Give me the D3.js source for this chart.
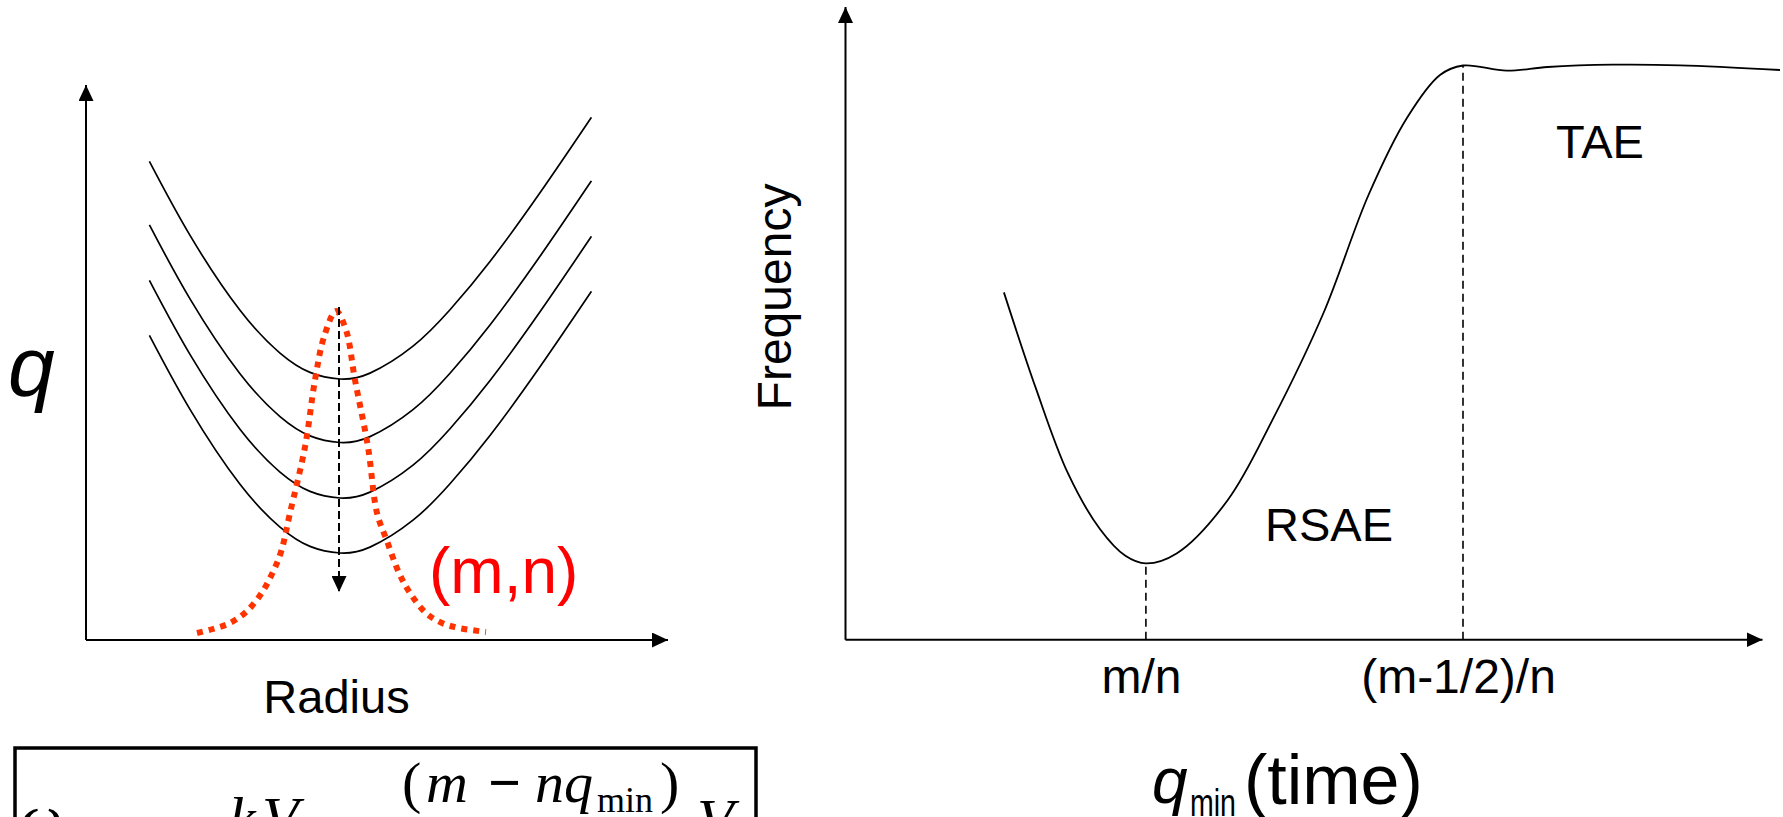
<!DOCTYPE html>
<html><head><meta charset="utf-8">
<script src="https://cdn.jsdelivr.net/npm/d3@7"></script>
<style>html,body{margin:0;padding:0;background:#fff;overflow:hidden}</style>
</head><body>
<svg id="chart" width="1783" height="817"></svg>
<script>
// ================= DATA =================
// Left panel: safety-factor profile q(r) of the top curve (arbitrary radius units)
const profileRadius = [6.34, 10.4, 15.4, 19.4, 22.4, 25.4, 28.4, 32.7, 36.4, 40.4, 45.4, 50.54];
const profileQ      = [4.786, 4.046, 3.297, 2.869, 2.676, 2.61, 2.669, 2.938, 3.302, 3.785, 4.472, 5.226];
// downward shift of each successive q profile (q_min decreasing in time)
const profileShift  = [0, 0.635, 1.19, 1.74];
// (m,n) mode structure (dotted red)
const modeRadius = [11.1, 12.7, 14.4, 16.0, 17.5, 18.6, 19.5, 20.4, 21.9, 22.9, 23.8, 25.0,
                    26.0, 26.9, 28.2, 29.1, 30.1, 31.3, 32.4, 34.0, 35.6, 37.3, 40.0];
const modeAmp    = [0.07, 0.11, 0.17, 0.28, 0.46, 0.66, 0.88, 1.27, 1.93, 2.60, 3.03, 3.29,
                    3.10, 2.60, 1.93, 1.27, 0.99, 0.67, 0.47, 0.27, 0.17, 0.12, 0.08];
const arrowRadius = 25.3;
const arrowQ = [3.33, 0.48];

// Right panel: frequency vs q_min (time)
const qminTime  = [15.84, 19.04, 22.24, 25.44, 27.99, 30.04, 33.11, 38.23, 42.71, 47.82,
                   52.30, 56.14, 59.45, 61.75, 66.12, 70.21, 76.75, 83.45, 93.45];
const frequency = [3.473, 2.513, 1.665, 1.107, 0.839, 0.763, 0.862, 1.397, 2.201, 3.272,
                   4.447, 5.217, 5.647, 5.742, 5.690, 5.727, 5.750, 5.744, 5.697];
const tickValues = [30.04, 61.75];
const tickLabels = ["m/n", "(m-1/2)/n"];
const tickFreq   = [0.763, 5.742];

// ================= DRAW =================
const svg = d3.select("#chart");
const SANS = "'Liberation Sans', Arial, Helvetica, sans-serif";
const SERIF = "'Liberation Serif', 'Times New Roman', serif";

const defs = svg.append("defs");
defs.append("marker").attr("id", "arr")
  .attr("viewBox", "0 0 16 15").attr("refX", 16).attr("refY", 7.5)
  .attr("markerWidth", 16).attr("markerHeight", 15)
  .attr("markerUnits", "userSpaceOnUse").attr("orient", "auto")
  .append("path").attr("d", "M0,0 L16,7.5 L0,15 Z").attr("fill", "#000");

// ---------- left panel ----------
const xL = d3.scaleLinear().domain([0, 58.2]).range([86, 668]);
const yL = d3.scaleLinear().domain([0, 5.55]).range([640, 85]);

const gL = svg.append("g");
gL.append("line").attr("x1", xL(0)).attr("y1", yL(0)).attr("x2", xL(0)).attr("y2", yL(5.55))
  .attr("stroke", "#000").attr("stroke-width", 2).attr("marker-end", "url(#arr)");
gL.append("line").attr("x1", xL(0)).attr("y1", yL(0)).attr("x2", xL(58.2)).attr("y2", yL(0))
  .attr("stroke", "#000").attr("stroke-width", 2).attr("marker-end", "url(#arr)");

const smooth = d3.line().curve(d3.curveNatural);
const cr = d3.line().curve(d3.curveCatmullRom.alpha(0.5));
profileShift.forEach(s => {
  const pts = profileRadius.map((r, i) => [xL(r), yL(profileQ[i] - s)]);
  gL.append("path").attr("d", smooth(pts)).attr("fill", "none")
    .attr("stroke", "#000").attr("stroke-width", 1.7);
});

// mode (dotted red)
const modePts = modeRadius.map((r, i) => [xL(r), yL(modeAmp[i])]);
gL.append("path").attr("d", cr(modePts)).attr("fill", "none")
  .attr("stroke", "#ff3300").attr("stroke-width", 6).attr("stroke-dasharray", "6,6");

// dashed downward arrow
gL.append("line").attr("x1", xL(arrowRadius)).attr("x2", xL(arrowRadius))
  .attr("y1", yL(arrowQ[0])).attr("y2", yL(arrowQ[1]))
  .attr("stroke", "#000").attr("stroke-width", 2).attr("stroke-dasharray", "8,4")
  .attr("marker-end", "url(#arr)");

// labels
gL.append("text").attr("x", 8).attr("y", 396).attr("font-family", SANS)
  .attr("font-style", "italic").attr("font-size", 84).text("q");
gL.append("text").attr("x", 336.5).attr("y", 713).attr("text-anchor", "middle")
  .attr("font-family", SANS).attr("font-size", 47).text("Radius");
gL.append("text").attr("x", 429).attr("y", 593).attr("font-family", SANS)
  .attr("font-size", 64).attr("fill", "#ff0000").text("(m,n)");

// formula box (only its top is inside the picture)
gL.append("rect").attr("x", 15).attr("y", 748).attr("width", 741).attr("height", 200)
  .attr("fill", "none").attr("stroke", "#000").attr("stroke-width", 3.5);
const f = gL.append("g").attr("font-family", SERIF).attr("font-style", "italic");
f.append("text").attr("x", 20).attr("y", 836).attr("font-size", 60).text("ω");
f.append("text").attr("x", 229).attr("y", 838).attr("font-size", 60).text("k");
f.append("text").attr("x", 262).attr("y", 838).attr("font-size", 60).text("V");
f.append("text").attr("x", 402).attr("y", 802).attr("font-size", 58).attr("font-style", "normal").text("(");
f.append("text").attr("x", 426).attr("y", 802).attr("font-size", 58).text("m");
f.append("text").attr("x", 488).attr("y", 802).attr("font-size", 58).attr("font-style", "normal")
  .attr("font-weight", "bold").text("−");
f.append("text").attr("x", 535).attr("y", 802).attr("font-size", 58).text("nq");
f.append("text").attr("x", 597).attr("y", 812).attr("font-size", 36).attr("font-style", "normal").text("min");
f.append("text").attr("x", 660).attr("y", 802).attr("font-size", 58).attr("font-style", "normal").text(")");
f.append("text").attr("x", 697).attr("y", 840).attr("font-size", 60).text("V");

// ---------- right panel ----------
const xR = d3.scaleLinear().domain([0, 91.7]).range([845.5, 1762.5]);
const yR = d3.scaleLinear().domain([0, 6.327]).range([639.7, 7]);
const gR = svg.append("g");

gR.append("line").attr("x1", xR(0)).attr("y1", yR(0)).attr("x2", xR(0)).attr("y2", yR(6.327))
  .attr("stroke", "#000").attr("stroke-width", 2).attr("marker-end", "url(#arr)");
gR.append("line").attr("x1", xR(0)).attr("y1", yR(0)).attr("x2", xR(91.7)).attr("y2", yR(0))
  .attr("stroke", "#000").attr("stroke-width", 2).attr("marker-end", "url(#arr)");

tickValues.forEach((t, i) => {
  gR.append("line").attr("x1", xR(t)).attr("x2", xR(t)).attr("y1", yR(0)).attr("y2", yR(tickFreq[i]))
    .attr("stroke", "#000").attr("stroke-width", 1.6).attr("stroke-dasharray", "8,5");
});

const freqPts = qminTime.map((t, i) => [xR(t), yR(frequency[i])]);
gR.append("path").attr("d", cr(freqPts)).attr("fill", "none")
  .attr("stroke", "#000").attr("stroke-width", 1.8);

const ax = d3.axisBottom(xR).tickValues(tickValues).tickSize(0)
  .tickFormat((d, i) => tickLabels[i]);
const axG = gR.append("g").attr("transform", `translate(0,${yR(0)})`).call(ax);
axG.select(".domain").remove();
axG.selectAll("text").attr("y", 53.3).attr("dy", 0).attr("dx", -5)
  .attr("font-family", SANS).attr("font-size", 48).attr("fill", "#000");

gR.append("text").attr("transform", "translate(791,297) rotate(-90)")
  .attr("text-anchor", "middle").attr("font-family", SANS).attr("font-size", 48).text("Frequency");
gR.append("text").attr("x", 1152).attr("y", 803).attr("font-family", SANS)
  .attr("font-style", "italic").attr("font-size", 64).text("q");
gR.append("text").attr("x", 1190).attr("y", 816).attr("font-family", SANS)
  .attr("font-size", 38).attr("textLength", 46).attr("lengthAdjust", "spacingAndGlyphs").text("min");
gR.append("text").attr("x", 1244).attr("y", 804).attr("font-family", SANS)
  .attr("font-size", 70).text("(time)");

gR.append("text").attr("x", 1556).attr("y", 158).attr("font-family", SANS)
  .attr("font-size", 47).text("TAE");
gR.append("text").attr("x", 1265).attr("y", 541).attr("font-family", SANS)
  .attr("font-size", 47).text("RSAE");
</script>
</body></html>
